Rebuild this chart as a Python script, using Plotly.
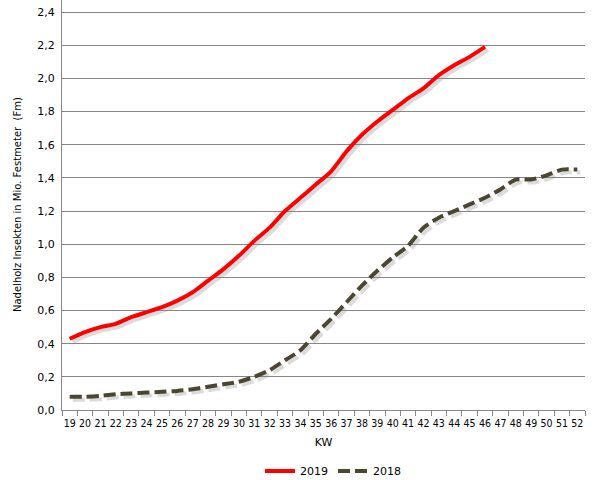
import plotly.graph_objects as go

weeks = [str(w) for w in range(19, 53)]
weeks_2019 = [str(w) for w in range(19, 47)]
values_2019 = [0.43, 0.47, 0.50, 0.52, 0.56, 0.59, 0.62, 0.66, 0.71, 0.78,
               0.85, 0.93, 1.02, 1.10, 1.20, 1.28, 1.36, 1.44, 1.56, 1.66,
               1.74, 1.81, 1.88, 1.94, 2.02, 2.08, 2.13, 2.19]
values_2018 = [0.08, 0.08, 0.085, 0.095, 0.10, 0.105, 0.11, 0.115, 0.125, 0.14,
               0.155, 0.17, 0.20, 0.24, 0.30, 0.36, 0.46, 0.55, 0.65, 0.75,
               0.84, 0.92, 0.99, 1.10, 1.16, 1.20, 1.24, 1.28, 1.33, 1.39,
               1.39, 1.415, 1.45, 1.45]
y_ticks = [0.0, 0.2, 0.4, 0.6, 0.8, 1.0, 1.2, 1.4, 1.6, 1.8, 2.0, 2.2, 2.4]
y_tick_text = [f"{v:.1f}".replace(".", ",") for v in y_ticks]

font = "DejaVu Sans"
cond = "DejaVu Sans Condensed, DejaVu Sans"

# plot area geometry (pixels)
W, H = 526, 413   # paper area incl. shadow offset
S = 3             # shadow offset
y_range = [0, 2.473]
x_range = [-0.5, 33.5]

fig = go.Figure()
# shadows (subplot xy, shifted a few pixels down-right, drawn below)
fig.add_trace(go.Scatter(x=weeks_2019, y=values_2019, mode="lines", showlegend=False,
                         hoverinfo="skip", xaxis="x", yaxis="y",
                         line=dict(color="rgba(0,0,0,0.14)", width=4, shape="spline", smoothing=0.6)))
fig.add_trace(go.Scatter(x=weeks, y=values_2018, mode="lines", showlegend=False,
                         hoverinfo="skip", xaxis="x", yaxis="y",
                         line=dict(color="rgba(0,0,0,0.14)", width=4, dash="12px,5px",
                                   shape="spline", smoothing=0.6)))
# main lines (subplot x2y2 with visible axes)
fig.add_trace(go.Scatter(x=weeks_2019, y=values_2019, name="2019", mode="lines",
                         xaxis="x2", yaxis="y2",
                         line=dict(color="#FF0000", width=4, shape="spline", smoothing=0.6)))
fig.add_trace(go.Scatter(x=weeks, y=values_2018, name="2018", mode="lines",
                         xaxis="x2", yaxis="y2",
                         line=dict(color="#4B4631", width=4, dash="12px,5px",
                                   shape="spline", smoothing=0.6)))

fig.update_layout(
    width=600, height=480,
    margin=dict(l=62, r=600 - 62 - W, t=0, b=480 - H, autoexpand=False),
    paper_bgcolor="white", plot_bgcolor="rgba(0,0,0,0)",
    font=dict(family=font, size=11, color="black"),
    showlegend=True,
    legend=dict(orientation="h", x=(333 - 62) / W, xanchor="center",
                y=-(471 - H) / H, yanchor="middle",
                font=dict(size=11), traceorder="normal"),
    xaxis=dict(type="category", categoryorder="array", categoryarray=weeks,
               domain=[S / W, 1], range=x_range, visible=False, anchor="y"),
    yaxis=dict(range=y_range, domain=[0, (H - S) / H], visible=False, anchor="x"),
    xaxis2=dict(type="category", categoryorder="array", categoryarray=weeks,
                domain=[0, (W - S) / W], anchor="y2",
                range=x_range, showgrid=False, showline=True, linecolor="#868686",
                ticks="outside", tickson="boundaries", ticklen=5, tickcolor="#868686",
                tickangle=0, automargin=False, ticklabelstandoff=3,
                tickfont=dict(size=10.5, family=cond),
                title=dict(text="KW", standoff=10, font=dict(size=11))),
    yaxis2=dict(range=y_range, tickvals=y_ticks, ticktext=y_tick_text,
                domain=[S / H, 1], anchor="x2",
                showgrid=True, gridcolor="#868686", gridwidth=1, automargin=False,
                showline=True, linecolor="#868686", ticks="", zeroline=False,
                tickfont=dict(size=11, family=font), ticklabelstandoff=4),
    annotations=[dict(text="Nadelholz Insekten in Mio. Festmeter  (Fm)",
                      xref="paper", yref="paper", x=-44 / W, y=(H - 205) / H,
                      xanchor="center", yanchor="middle", textangle=-90,
                      showarrow=False, font=dict(size=10, family=font))],
)

fig.write_html("out.html", config={"displayModeBar": False},
               post_script="document.body.style.margin='0px';")
